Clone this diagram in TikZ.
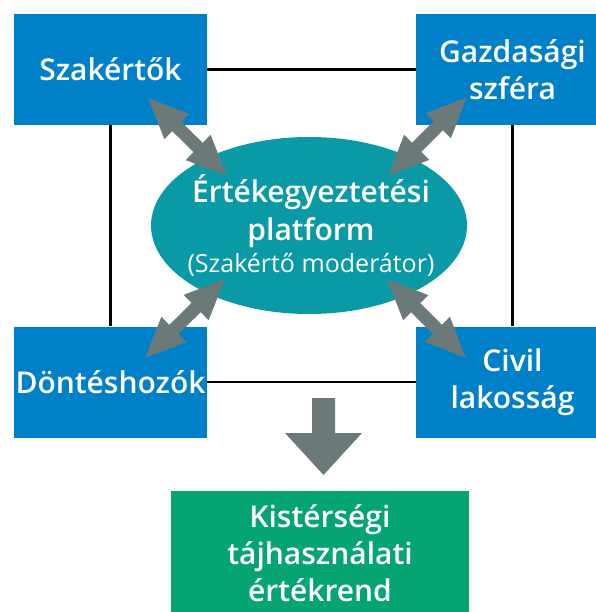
\documentclass[tikz,border=0pt]{standalone}
\usepackage{fontspec}
\setmainfont{Open Sans}
\newfontfamily\sbf{Open Sans}[UprightFont={* Semibold}]
\usetikzlibrary{arrows.meta,shapes.geometric}
\definecolor{boxblue}{HTML}{0080C9}
\definecolor{platteal}{HTML}{0A9AA6}
\definecolor{resgreen}{HTML}{05A474}
\definecolor{arrgray}{HTML}{6B7979}
\begin{document}
\begin{tikzpicture}[x=1pt,y=-1pt,
  actor/.style={fill=boxblue, text=white, minimum width=193pt, minimum height=111pt,
    inner sep=0pt, align=center, font=\sbf\fontsize{30}{37}\selectfont},
  platform/.style={ellipse, fill=platteal, minimum width=316pt, minimum height=177pt, inner sep=0pt},
  plattext/.style={text=white, inner sep=0pt, align=center, font=\sbf\fontsize{30}{38}\selectfont},
  resbox/.style={fill=resgreen, minimum width=298pt, minimum height=149pt, inner sep=0pt},
  restext/.style={text=white, align=center, inner sep=0pt, font=\sbf\fontsize{30}{37}\selectfont},
  link/.style={draw=black, line width=2.2pt},
  dblarrow/.style={draw=arrgray, line width=13pt,
    {Triangle[length=42pt,width=32pt]}-{Triangle[length=42pt,width=32pt]}},
  bigarrow/.style={fill=arrgray}
]
\useasboundingbox (0,0) rectangle (595,612);

% platform ellipse
\node[platform] (pl) at (309,225.5) {};
\node[plattext] (plt) at (311,226) {Értékegyeztetési\\platform\\[-6pt]{\rmfamily\fontsize{25}{30}\selectfont (Szakértő moderátor)}};

% actor boxes
\node[actor] (sz) at (110.5,69.5) {Szakértők};
\node[actor] (gz) at (512.5,69.5) {Gazdasági\\szféra};
\node[actor] (dh) at (110.5,382) {Döntéshozók};
\node[actor] (cv) at (512.5,382) {Civil\\lakosság};

% frame lines
\draw[link] (sz) -- (gz);
\draw[link] (sz) -- (dh);
\draw[link] (gz) -- (cv);
\draw[link] (dh) -- (cv);

% double arrows
\coordinate (a1) at (147,97);  \coordinate (b1) at (228,177);
\coordinate (a2) at (468,96);  \coordinate (b2) at (387,177);
\coordinate (a3) at (144,359); \coordinate (b3) at (226,278);
\coordinate (a4) at (467,359); \coordinate (b4) at (386,278);
\draw[dblarrow] (a1) -- (b1);
\draw[dblarrow] (a2) -- (b2);
\draw[dblarrow] (a3) -- (b3);
\draw[dblarrow] (a4) -- (b4);

% result box
\node[resbox] (res) at (320,565.5) {};
\node[restext] (rest) at (320,553.5) {Kistérségi\\tájhasználati\\értékrend};

% big down arrow
\fill[bigarrow] (312,398) -- (335,398) -- (335,433) -- (362,433) -- (323.5,475) -- (285,433) -- (312,433) -- cycle;
\end{tikzpicture}
\end{document}
